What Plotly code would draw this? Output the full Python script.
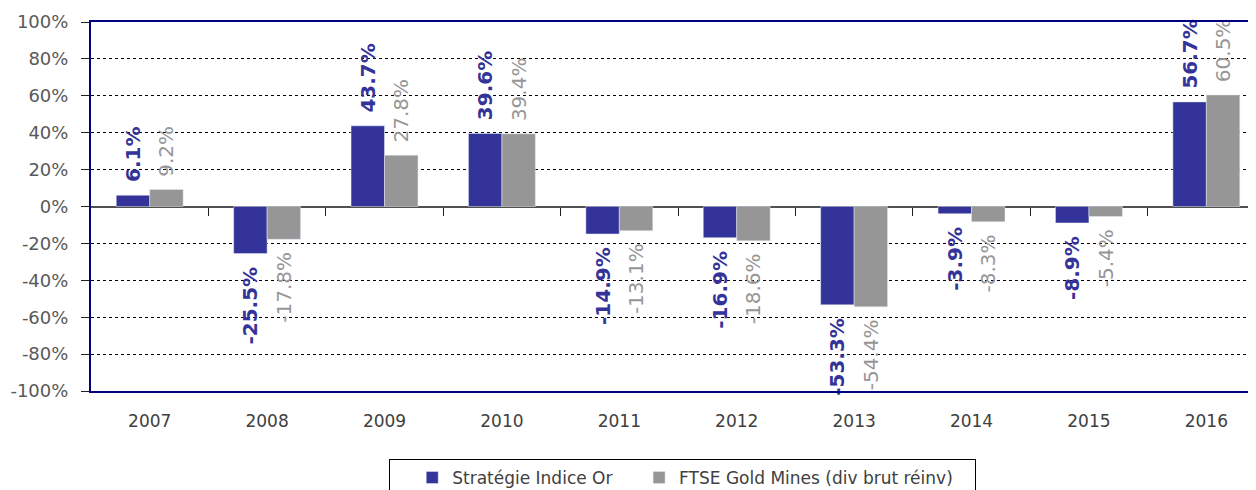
import plotly.graph_objects as go

years = [2007, 2008, 2009, 2010, 2011, 2012, 2013, 2014, 2015, 2016]
strategie = [6.1, -25.5, 43.7, 39.6, -14.9, -16.9, -53.3, -3.9, -8.9, 56.7]
ftse = [9.2, -17.8, 27.8, 39.4, -13.1, -18.6, -54.4, -8.3, -5.4, 60.5]
y_ticks = [-100, -80, -60, -40, -20, 0, 20, 40, 60, 80, 100]

name_a = "Stratégie Indice Or"
name_b = "FTSE Gold Mines (div brut réinv)"

BLUE = "#333399"
GREY = "#969696"
NAVY = "#000080"
FONT = "DejaVu Sans, Verdana, sans-serif"
PAD = "\u00a0\u2006"
NB = "\u00a0"

# the page body has an 8px margin: the figure is sized to fit the window
W, H = 1248, 482


def labels(vals):
    out = []
    for v in vals:
        s = f"{v:.1f}%"
        out.append(PAD + s if v >= 0 else s + PAD)
    return out


fig = go.Figure()
fig.add_trace(go.Bar(
    x=years, y=strategie, name=name_a + NB * 4, marker_color=BLUE,
    text=labels(strategie), textposition="outside", textangle=-90,
    textfont=dict(family=FONT, size=20, color=BLUE, weight="bold"),
    cliponaxis=False, constraintext="none", hoverinfo="skip",
))
fig.add_trace(go.Bar(
    x=years, y=ftse, name=name_b + NB * 3, marker_color=GREY,
    text=labels(ftse), textposition="outside", textangle=-90,
    textfont=dict(family=FONT, size=20, color=GREY),
    cliponaxis=False, constraintext="none", hoverinfo="skip",
))
# helper trace so that the boundary tick axis at 0% exists
fig.add_trace(go.Scatter(x=[], y=[], xaxis="x2", showlegend=False,
                         hoverinfo="skip", mode="markers"))

xr = [years[0] - 0.5, years[-1] + 0.423]
boundaries = [y + 0.5 for y in years[:-1]]

fig.update_layout(
    width=W, height=H,
    margin=dict(l=83, r=0, t=14, b=99),
    paper_bgcolor="white", plot_bgcolor="white",
    barmode="group", bargap=0.43, bargroupgap=0,
    font=dict(family=FONT, color="#404040"),
    xaxis=dict(
        range=xr, tickvals=years, ticktext=[str(y) for y in years],
        showgrid=False, zeroline=False, ticks="", automargin=False,
        showline=True, linecolor=NAVY, linewidth=2, mirror=True,
        tickfont=dict(family=FONT, size=17, color="#404040"),
        ticklabelstandoff=14,
    ),
    xaxis2=dict(
        range=xr, overlaying="x", anchor="free", position=0.5,
        tickvals=boundaries, showticklabels=False, ticks="outside",
        ticklen=8, tickwidth=1, tickcolor="#202020", automargin=False,
        showgrid=False, zeroline=False, showline=False,
    ),
    yaxis=dict(
        range=[-100, 100], tickvals=y_ticks,
        ticktext=[f"{v}%" for v in y_ticks], automargin=False,
        showgrid=True, gridcolor="#000000", gridwidth=1, griddash="dot",
        zeroline=True, zerolinecolor="#505050", zerolinewidth=1.5,
        showline=True, linecolor=NAVY, linewidth=2,
        ticks="outside", ticklen=8, tickcolor="#202020",
        tickfont=dict(family=FONT, size=18, color="#595959"),
        ticklabelstandoff=9,
    ),
    legend=dict(
        orientation="h", xref="container", yref="container",
        x=674 / W, xanchor="center", y=1 - 451 / H, yanchor="top",
        bordercolor="#000000", borderwidth=1,
        font=dict(family=FONT, size=17, color="#404040"),
        title=dict(text=NB * 2, side="left"),
    ),
)

fig.write_html("out.html")
